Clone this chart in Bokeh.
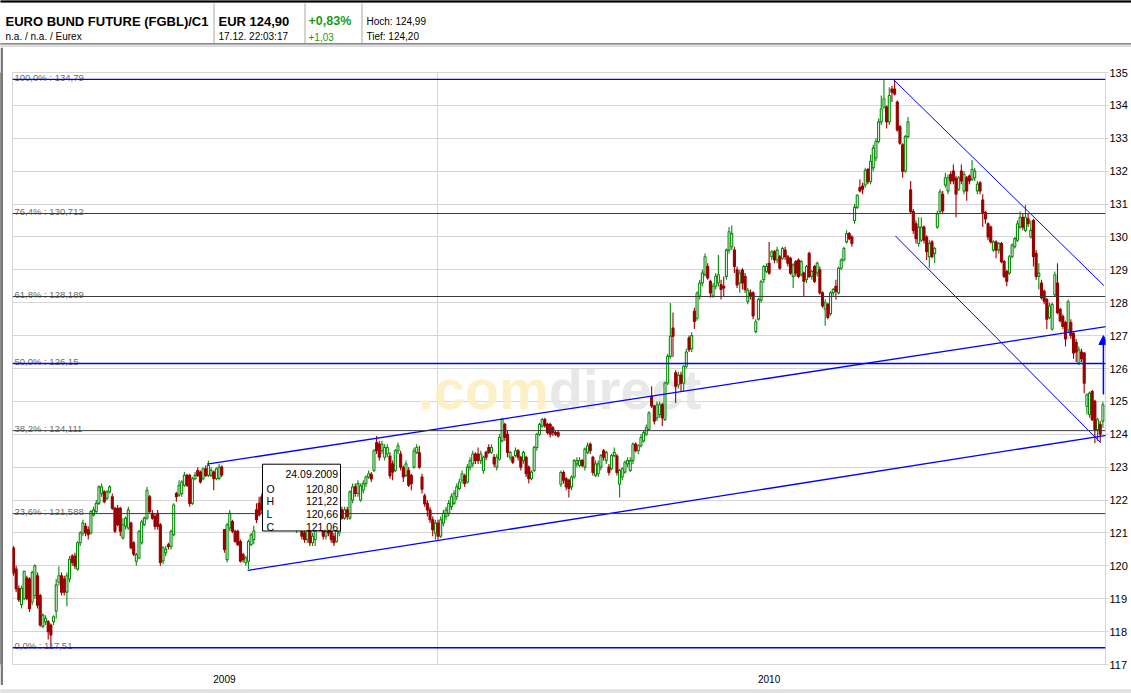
import numpy as np
from bokeh.plotting import figure
from bokeh.layouts import column, row
from bokeh.models import (Range1d, FixedTicker, Span, Arrow, NormalHead, ColumnDataSource,
                          BoxAnnotation, Label)
from bokeh.embed import file_html
from bokeh.resources import INLINE
from bokeh.core.properties import value

FONT = "Liberation Sans"

# ---------------- data: daily candles (trading-day index 0..408) ----------------
opens = [
    120.54, 119.9, 119.3, 118.82, 119.0, 119.63, 119.6, 118.9, 119.1, 119.7,
    119.1, 118.16, 118.3, 118.3, 118.2, 118.3, 118.62, 119.5, 119.7, 119.6,
    119.2, 119.6, 120.3, 120.3, 119.9, 120.7, 121.0, 121.2, 121.1, 121.0,
    121.55, 121.65, 121.9, 122.2, 122.25, 122.05, 122.25, 122.1, 121.75, 121.75,
    121.75, 120.85, 121.2, 121.15, 121.3, 120.7, 120.14, 120.24, 120.7, 121.25,
    121.45, 122.1, 121.6, 121.5, 121.6, 121.25, 120.15, 120.4, 120.64, 120.59,
    120.95, 122.2, 122.15, 122.2, 122.45, 122.75, 122.75, 121.9, 122.65, 122.9,
    122.85, 122.65, 122.95, 122.75, 122.75, 122.85, 122.65, 122.66, 123.0, 121.1,
    120.19, 121.15, 121.35, 121.05, 121.05, 120.74, 120.34, 120.1, 120.14, 120.64,
    120.80, 121.7, 121.9, 122.1, 121.9, 121.6, 122.0, 122.4, 122.2, 122.6,
    122.3, 122.0, 122.3, 121.9, 121.6, 121.8, 121.2, 121.5, 121.3, 121.0,
    120.8, 121.1, 120.7, 120.8, 121.2, 121.5, 121.2, 120.9, 121.3, 121.1,
    120.9, 120.74, 121.0, 121.7, 121.45, 121.7, 121.45, 122.0, 122.4, 122.2,
    122.0, 122.3, 122.5, 122.7, 122.78, 122.9, 123.75, 123.7, 123.5, 123.3,
    123.4, 123.34, 123.1, 122.9, 123.5, 123.4, 122.99, 122.75, 122.9, 122.75,
    123.0, 123.45, 123.44, 122.7, 122.13, 121.9, 121.7, 121.4, 121.0, 121.3,
    120.9, 121.3, 121.5, 121.6, 121.8, 121.9, 122.1, 122.35, 122.6, 122.74,
    122.55, 123.0, 123.1, 123.4, 123.4, 123.2, 122.9, 123.45, 123.6, 123.45,
    123.3, 123.0, 123.24, 123.8, 124.3, 124.0, 123.3, 123.3, 123.35, 123.5,
    123.3, 123.2, 123.3, 123.0, 122.65, 122.9, 123.6, 124.0, 124.25, 124.45,
    124.3, 124.3, 124.2, 124.05, 124.05, 122.48, 122.84, 122.65, 122.6, 122.4,
    122.7, 123.1, 123.05, 123.2, 123.0, 123.45, 123.7, 123.3, 122.75, 122.8,
    123.0, 123.5, 123.2, 123.0, 122.95, 123.35, 123.34, 122.48, 122.7, 122.85,
    123.1, 122.9, 123.2, 123.7, 123.5, 123.65, 123.8, 124.0, 124.15, 125.16,
    124.86, 124.5, 124.6, 124.9, 124.45, 125.56, 126.37, 127.23, 125.87, 125.5,
    125.8, 125.55, 126.07, 126.93, 126.6, 127.74, 127.53, 128.2, 128.6, 128.85,
    129.1, 128.65, 128.2, 128.5, 128.6, 128.55, 128.5, 128.8, 129.6, 129.7,
    129.6, 129.0, 128.6, 128.99, 128.8, 128.04, 128.3, 128.3, 127.12, 127.5,
    128.08, 128.7, 128.95, 129.2, 129.4, 129.55, 129.3, 129.4, 129.35, 129.6,
    129.4, 129.35, 128.8, 129.25, 129.3, 128.85, 128.9, 128.7, 129.5, 128.8,
    129.1, 128.9, 129.0, 128.3, 127.8, 127.95, 127.67, 128.3, 128.5, 128.3,
    129.05, 129.3, 129.85, 130.1, 130.0, 130.5, 130.9, 131.5, 131.55, 131.58,
    132.05, 131.68, 132.1, 132.4, 132.9, 133.5, 133.95, 133.95, 133.5, 134.5,
    134.5, 134.1, 133.35, 132.8, 132.0, 133.05, 131.43, 130.77, 130.4, 129.8,
    129.9, 130.3, 130.0, 129.4, 129.85, 129.5, 130.3, 130.77, 131.3, 131.58,
    131.4, 131.9, 132.0, 131.78, 131.45, 132.0, 131.4, 131.8, 131.85, 131.75,
    131.8, 131.4, 131.65, 131.12, 130.75, 130.4, 130.3, 129.6, 129.85, 129.6,
    129.8, 129.25, 128.95, 128.9, 129.4, 129.7, 129.9, 130.3, 130.6, 130.2,
    130.55, 130.0, 130.5, 129.5, 128.8, 128.6, 128.35, 128.1, 127.55, 127.2,
    128.24, 128.6, 127.8, 127.58, 127.4, 127.17, 127.4, 127.07, 126.8, 126.16,
    126.5, 126.47, 124.85, 124.6, 125.3, 125.0, 124.14, 124.3, 124.4,
]
closes = [
    119.78, 119.3, 118.97, 119.32, 119.83, 119.0, 118.7, 119.8, 120.0, 118.8,
    118.2, 118.5, 118.4, 118.0, 117.9, 118.45, 119.42, 119.7, 119.2, 119.2,
    119.7, 120.2, 120.1, 120.0, 120.7, 121.0, 121.3, 121.0, 120.95, 121.65,
    121.7, 121.9, 122.4, 122.4, 121.95, 122.25, 122.4, 121.75, 121.05, 121.25,
    121.05, 121.25, 121.45, 121.7, 120.55, 120.35, 120.34, 121.04, 121.34, 121.45,
    122.3, 121.65, 121.45, 121.2, 121.2, 120.1, 120.55, 120.5, 120.59, 121.05,
    121.85, 122.1, 122.45, 122.55, 122.75, 122.45, 121.9, 122.65, 122.75, 122.75,
    122.55, 122.95, 122.75, 123.05, 122.9, 122.65, 122.95, 123.0, 122.76, 120.5,
    121.25, 121.6, 121.05, 120.74, 120.64, 120.14, 120.19, 120.24, 120.74, 120.94,
    121.06, 121.4, 121.55, 121.7, 121.6, 122.1, 122.4, 122.2, 122.6, 122.3,
    122.0, 122.3, 121.9, 121.6, 121.8, 121.3, 121.5, 121.2, 120.9, 120.8,
    121.1, 120.7, 120.9, 121.3, 121.5, 121.2, 120.9, 121.3, 121.0, 120.8,
    120.7, 121.05, 121.4, 121.45, 121.7, 121.5, 122.25, 122.4, 122.2, 122.5,
    122.43, 122.5, 122.7, 122.8, 122.64, 123.5, 123.5, 123.3, 123.7, 123.6,
    123.6, 122.74, 122.85, 123.5, 123.65, 123.0, 122.7, 123.1, 122.45, 122.5,
    123.5, 123.6, 123.0, 122.33, 121.88, 121.7, 121.4, 121.1, 121.3, 120.9,
    121.4, 121.6, 121.7, 121.9, 122.1, 122.2, 122.4, 122.55, 122.8, 122.5,
    123.0, 123.2, 123.4, 123.2, 123.2, 123.4, 123.3, 123.3, 123.45, 123.6,
    123.1, 123.3, 123.9, 124.45, 123.9, 123.45, 123.45, 123.15, 123.5, 123.3,
    123.0, 123.45, 122.8, 122.65, 122.85, 123.6, 124.0, 124.3, 124.45, 124.25,
    124.05, 124.0, 124.05, 124.0, 123.95, 122.84, 122.6, 122.4, 122.35, 122.7,
    123.2, 123.2, 123.2, 123.05, 123.55, 123.65, 123.5, 122.84, 123.1, 123.1,
    123.35, 123.3, 123.45, 122.84, 123.35, 123.45, 122.84, 122.9, 122.95, 123.15,
    123.2, 123.2, 123.7, 123.5, 123.65, 123.9, 124.05, 124.2, 124.65, 124.86,
    124.4, 124.9, 124.9, 124.5, 125.56, 126.37, 126.98, 126.98, 125.46, 125.8,
    125.55, 126.07, 126.5, 126.57, 127.0, 127.43, 128.29, 128.6, 128.9, 129.4,
    128.75, 128.3, 128.5, 128.8, 128.85, 128.4, 128.45, 129.6, 130.16, 130.1,
    129.1, 128.54, 128.9, 128.6, 128.4, 128.38, 128.2, 127.6, 127.42, 128.1,
    128.64, 129.1, 129.1, 128.9, 129.55, 129.3, 129.6, 129.05, 129.65, 129.4,
    129.2, 128.9, 129.15, 128.9, 128.8, 129.25, 128.65, 129.1, 128.8, 128.95,
    128.65, 129.2, 128.3, 127.9, 128.0, 127.55, 128.3, 128.4, 128.35, 129.05,
    129.3, 129.65, 130.1, 129.95, 129.8, 130.9, 131.27, 131.4, 131.45, 132.03,
    131.68, 132.3, 132.7, 132.9, 133.5, 133.9, 134.2, 133.5, 134.3, 134.4,
    134.35, 133.25, 132.85, 132.0, 133.05, 133.5, 130.77, 130.2, 129.95, 130.3,
    130.3, 129.9, 129.55, 129.8, 129.4, 129.65, 130.7, 131.37, 130.8, 131.8,
    131.8, 131.7, 131.7, 131.3, 131.8, 131.7, 131.9, 131.4, 131.7, 132.05,
    132.0, 131.6, 131.4, 130.72, 130.55, 130.0, 129.85, 129.85, 129.6, 129.8,
    129.25, 128.8, 128.65, 129.4, 129.75, 129.95, 130.4, 130.6, 130.3, 130.6,
    130.4, 130.2, 129.4, 128.8, 128.9, 128.15, 128.05, 127.5, 127.9, 127.95,
    128.85, 127.7, 127.45, 127.28, 126.9, 128.03, 127.0, 126.47, 126.5, 126.57,
    126.3, 125.55, 125.2, 125.25, 124.44, 124.14, 124.44, 124.0, 124.9,
]
highs = [
    120.6, 120.0, 119.4, 119.4, 119.85, 119.7, 119.65, 119.85, 120.05, 119.8,
    119.15, 118.55, 118.5, 118.35, 118.25, 118.5, 119.6, 119.98, 119.8, 119.7,
    119.8, 120.3, 120.35, 120.4, 120.75, 121.05, 121.4, 121.3, 121.2, 121.7,
    121.8, 122.0, 122.45, 122.5, 122.3, 122.3, 122.45, 122.2, 121.8, 121.85,
    121.8, 121.45, 121.5, 121.8, 121.35, 120.75, 120.4, 121.1, 121.4, 121.5,
    122.4, 122.15, 121.7, 121.6, 121.7, 121.3, 120.6, 120.6, 120.7, 121.1,
    121.9, 122.25, 122.6, 122.6, 122.85, 122.8, 122.8, 122.7, 122.85, 123.0,
    122.9, 123.0, 123.05, 123.2, 123.0, 122.9, 123.0, 123.1, 123.05, 121.1,
    121.3, 121.7, 121.4, 121.1, 121.1, 120.8, 120.4, 120.3, 120.8, 121.0,
    121.22, 121.9, 122.1, 122.2, 122.0, 122.2, 122.5, 122.6, 122.7, 122.7,
    122.4, 122.4, 122.4, 122.0, 121.9, 121.9, 121.6, 121.6, 121.4, 121.1,
    121.2, 121.2, 121.0, 121.4, 121.6, 121.6, 121.3, 121.4, 121.4, 121.2,
    121.0, 121.1, 121.5, 121.8, 121.8, 121.8, 122.3, 122.5, 122.5, 122.6,
    122.5, 122.6, 122.75, 122.9, 122.85, 123.55, 123.95, 123.8, 123.8, 123.7,
    123.7, 123.45, 123.2, 123.55, 123.75, 123.5, 123.05, 123.2, 123.0, 122.8,
    123.6, 123.7, 123.65, 122.8, 122.2, 122.0, 121.8, 121.5, 121.4, 121.4,
    121.5, 121.7, 121.8, 122.0, 122.2, 122.3, 122.5, 122.65, 122.9, 122.8,
    123.1, 123.3, 123.5, 123.45, 123.6, 123.5, 123.35, 123.5, 123.7, 123.7,
    123.4, 123.4, 124.0, 124.5, 124.35, 124.1, 123.5, 123.35, 123.6, 123.55,
    123.35, 123.5, 123.35, 123.05, 122.9, 123.65, 124.05, 124.35, 124.5, 124.5,
    124.35, 124.35, 124.25, 124.1, 124.1, 122.9, 122.9, 122.7, 122.65, 122.75,
    123.25, 123.3, 123.3, 123.25, 123.6, 123.75, 123.75, 123.35, 123.2, 123.2,
    123.4, 123.55, 123.5, 123.1, 123.4, 123.6, 123.4, 122.95, 123.0, 123.2,
    123.3, 123.3, 123.75, 123.75, 123.7, 124.0, 124.1, 124.3, 124.7, 125.46,
    124.9, 125.0, 125.0, 124.95, 125.6, 126.45, 127.99, 127.7, 125.95, 125.9,
    125.9, 126.1, 126.6, 127.0, 127.1, 127.85, 128.35, 128.7, 129.0, 129.5,
    129.2, 128.7, 128.6, 128.9, 129.45, 128.7, 128.8, 129.65, 130.3, 130.35,
    129.7, 129.1, 129.0, 129.05, 128.9, 128.45, 128.4, 128.35, 127.5, 128.15,
    128.7, 129.15, 129.2, 129.85, 129.6, 129.6, 129.7, 129.45, 129.7, 129.7,
    129.45, 129.4, 129.2, 129.3, 129.35, 129.3, 128.95, 129.15, 129.55, 129.0,
    129.15, 129.25, 129.1, 128.35, 128.1, 128.0, 128.35, 128.45, 128.7, 129.1,
    129.35, 129.7, 130.2, 130.15, 130.05, 131.0, 131.3, 131.75, 131.65, 132.1,
    132.1, 132.5, 132.8, 133.0, 133.6, 134.3, 134.79, 134.0, 134.55, 134.6,
    134.79, 134.15, 133.4, 132.85, 133.1, 133.65, 131.7, 130.85, 130.5, 130.6,
    130.6, 130.35, 130.05, 129.9, 129.9, 129.7, 130.8, 131.45, 131.4, 131.95,
    131.9, 132.0, 132.2, 131.85, 131.85, 132.2, 132.0, 131.85, 131.9, 132.34,
    132.1, 131.7, 131.7, 131.3, 130.8, 130.45, 130.35, 129.9, 129.9, 129.85,
    129.85, 129.3, 129.0, 129.45, 129.8, 130.0, 130.5, 130.77, 130.7, 130.97,
    130.7, 130.5, 130.55, 129.6, 129.2, 128.7, 128.4, 128.15, 128.0, 128.0,
    128.95, 129.2, 127.85, 127.65, 127.45, 128.1, 127.5, 127.1, 126.9, 126.67,
    126.6, 126.5, 125.25, 125.3, 125.35, 125.05, 124.5, 124.4, 124.99,
]
lows = [
    119.7, 119.2, 118.9, 118.7, 118.95, 118.95, 118.6, 118.8, 119.0, 118.7,
    118.15, 118.1, 118.2, 117.76, 117.51, 118.2, 118.4, 119.4, 119.1, 119.1,
    118.77, 119.5, 120.0, 119.9, 119.85, 120.6, 120.9, 120.9, 120.8, 120.95,
    121.5, 121.6, 121.85, 122.1, 121.9, 122.0, 122.2, 121.7, 121.0, 121.2,
    120.9, 120.8, 121.1, 121.1, 120.5, 120.3, 120.0, 120.2, 120.65, 121.2,
    121.4, 121.6, 121.4, 121.1, 121.1, 120.0, 120.05, 120.3, 120.5, 120.5,
    120.9, 121.95, 122.1, 122.1, 122.4, 122.4, 121.8, 121.85, 122.6, 122.7,
    122.5, 122.6, 122.7, 122.7, 122.7, 122.3, 122.6, 122.6, 122.7, 120.4,
    120.1, 121.05, 121.0, 120.7, 120.6, 120.1, 120.1, 120.0, 119.9, 120.6,
    120.66, 121.3, 121.5, 121.6, 121.5, 121.5, 121.9, 122.1, 122.1, 122.2,
    121.9, 121.9, 121.8, 121.5, 121.4, 121.2, 121.0, 121.1, 120.8, 120.7,
    120.7, 120.6, 120.6, 120.6, 121.1, 121.1, 120.8, 120.8, 120.9, 120.7,
    120.6, 120.7, 120.9, 121.4, 121.4, 121.4, 121.4, 121.9, 122.1, 122.1,
    121.95, 122.2, 122.4, 122.65, 122.55, 122.85, 123.4, 123.2, 123.4, 123.2,
    123.3, 122.65, 122.6, 122.85, 123.4, 122.9, 122.55, 122.7, 122.4, 122.3,
    122.95, 123.4, 122.95, 122.2, 121.8, 121.5, 121.3, 120.9, 120.8, 120.8,
    120.85, 121.2, 121.4, 121.5, 121.7, 121.85, 122.0, 122.3, 122.5, 122.4,
    122.5, 122.9, 123.0, 123.1, 123.1, 123.1, 122.8, 123.2, 123.4, 123.4,
    123.0, 122.9, 123.2, 123.75, 123.8, 123.3, 123.2, 123.1, 123.3, 123.2,
    122.9, 123.1, 122.7, 122.5, 122.6, 122.85, 123.5, 123.95, 124.2, 124.2,
    124.0, 123.9, 123.95, 123.95, 123.9, 122.4, 122.5, 122.3, 122.08, 122.3,
    122.65, 123.0, 123.0, 123.0, 122.9, 123.4, 123.4, 122.75, 122.7, 122.7,
    122.9, 123.2, 123.1, 122.75, 122.9, 123.3, 122.75, 122.08, 122.6, 122.8,
    123.0, 122.85, 123.1, 123.45, 123.4, 123.6, 123.75, 123.95, 124.1, 124.8,
    124.3, 124.4, 124.5, 124.25, 124.4, 125.5, 126.3, 126.35, 124.95, 125.4,
    125.3, 125.3, 126.0, 126.5, 126.5, 127.2, 127.45, 128.1, 128.5, 128.8,
    128.7, 128.15, 128.15, 128.4, 128.5, 128.1, 128.2, 128.7, 129.5, 129.6,
    128.9, 128.45, 128.3, 128.4, 128.3, 127.95, 128.1, 127.5, 127.07, 127.45,
    128.0, 128.6, 128.9, 128.85, 129.3, 129.2, 129.2, 129.0, 129.3, 129.3,
    129.1, 128.85, 128.45, 128.8, 128.75, 128.8, 128.2, 128.6, 128.75, 128.7,
    128.6, 128.8, 128.25, 127.85, 127.3, 127.5, 127.6, 128.2, 128.1, 128.25,
    129.0, 129.25, 129.8, 129.9, 129.7, 130.4, 130.85, 131.35, 131.3, 131.5,
    131.6, 131.6, 132.0, 132.3, 132.85, 133.4, 133.9, 133.3, 133.4, 134.1,
    134.3, 133.2, 132.8, 131.8, 131.95, 133.0, 130.7, 130.1, 129.8, 129.7,
    129.85, 129.8, 129.3, 129.05, 129.35, 129.2, 130.25, 130.7, 130.7, 131.5,
    131.3, 131.6, 131.6, 130.6, 131.4, 131.6, 131.3, 131.1, 131.6, 131.7,
    131.7, 131.3, 131.3, 130.3, 130.4, 129.9, 129.8, 129.55, 129.35, 129.5,
    129.2, 128.75, 128.5, 128.85, 129.35, 129.65, 129.85, 130.25, 130.2, 130.15,
    130.3, 129.95, 129.1, 128.7, 128.4, 128.1, 127.95, 127.2, 127.5, 127.15,
    128.2, 127.65, 127.4, 127.2, 126.67, 127.1, 126.9, 126.3, 126.2, 126.1,
    126.2, 125.25, 124.6, 124.5, 124.4, 123.73, 123.8, 123.75, 124.2,
]

# axis ticks / labels
price_ticks = list(range(117, 136))
year_labels = ["2009", "2010"]
year_label_pos = [79, 283]        # candle index in the middle of each year's span
year_boundary = [158.8]           # first trading day of 2010

# Fibonacci retracement levels (low 117.51 -> high 134.79)
fib_levels = [134.79, 130.712, 128.189, 126.15, 124.111, 121.588, 117.51]
fib_labels = ["100,0% : 134,79", "76,4% : 130,712", "61,8% : 128,189", "50,0% : 126,15",
              "38,2% : 124,111", "23,6% : 121,588", "0,0% : 117,51"]
fib_blue = [True, False, False, True, False, False, True]

# hand-drawn trend lines (candle index, price)
upper_channel_x = [72.5, 409.6]
upper_channel_y = [123.09, 127.28]
lower_channel_x = [87.7, 409.4]
lower_channel_y = [119.86, 123.97]
down_upper_x = [329.5, 408.4]
down_upper_y = [134.79, 128.52]
down_lower_x = [330.3, 407.1]
down_lower_y = [130.03, 123.75]
target_arrow_x = 408.2
target_arrow_y = [125.21, 127.0]

tooltip_index = 90
tooltip_date = "24.09.2009"

header_name = "EURO BUND FUTURE (FGBL)/C1"
header_sub = "n.a. / n.a. / Eurex"
header_price = "EUR 124,90"
header_time = "17.12. 22:03:17"
header_pct = "+0,83%"
header_abs = "+1,03"
header_high = "Hoch: 124,99"
header_low = "Tief: 124,20"

# ---------------- styling ----------------
GREEN = "#078a07"
RED = "#990000"
BLUE = "#0000ff"
FIBDARK = "#3a3a3a"
GRID = "#d6d6d6"

o = np.array(opens); c = np.array(closes)
h = np.maximum(np.array(highs), np.maximum(o, c))
l = np.minimum(np.array(lows), np.minimum(o, c))
n = len(c)
assert len(o) == n and len(h) == n and len(l) == n
idx = np.arange(n)

X0, X1 = -0.37, 408.98
Y0, Y1 = 117, 135
CW, CH = 1128, 638
MB_L, MB_R, MB_T, MB_B = 9, 26, 25, 19
frame_w = CW - MB_L - MB_R
frame_h = CH - MB_T - MB_B
kx = (X1 - X0) / frame_w
ky = (Y1 - Y0) / frame_h

p = figure(width=CW, height=CH, x_range=Range1d(X0, X1), y_range=Range1d(Y0, Y1),
           toolbar_location=None, output_backend="svg", y_axis_location="right",
           min_border_left=MB_L, min_border_right=MB_R, min_border_top=MB_T,
           min_border_bottom=MB_B, outline_line_color=GRID,
           background_fill_color="white", border_fill_color="white")

p.yaxis.ticker = FixedTicker(ticks=price_ticks)
p.yaxis.axis_line_color = None
p.yaxis.major_tick_out = 3
p.yaxis.major_tick_in = 0
p.yaxis.major_tick_line_color = GRID
p.yaxis.minor_tick_line_color = None
p.yaxis.major_label_text_font = FONT
p.yaxis.major_label_text_font_size = "11px"
p.yaxis.major_label_text_color = "#000000"
p.yaxis.major_label_standoff = 1

p.xaxis.ticker = FixedTicker(ticks=year_label_pos)
p.xaxis.major_label_overrides = dict(zip(year_label_pos, year_labels))
p.xaxis.axis_line_color = None
p.xaxis.major_tick_line_color = None
p.xaxis.minor_tick_line_color = None
p.xaxis.major_label_text_font = FONT
p.xaxis.major_label_text_font_size = "10px"
p.xaxis.major_label_text_color = "#000000"
p.xaxis.major_label_standoff = 4

p.ygrid.ticker = FixedTicker(ticks=price_ticks)
p.ygrid.grid_line_color = GRID
p.xgrid.ticker = FixedTicker(ticks=year_boundary)
p.xgrid.grid_line_color = GRID

# watermark
p.text(x=[200.5], y=[125.36], text=[".com"], text_align="right", text_baseline="alphabetic",
       text_font=value(FONT), text_font_style="bold", text_font_size="56px",
       text_color="#fcefc0", text_alpha=0.9)
p.text(x=[200.5], y=[125.36], text=["direct"], text_align="left", text_baseline="alphabetic",
       text_font=value(FONT), text_font_style="bold", text_font_size="56px",
       text_color="#e6e6e6", text_alpha=0.9)

# candles
inc = c >= o
dec = ~inc
src_up = ColumnDataSource(dict(x=idx[inc], h=h[inc], l=l[inc], top=c[inc], bot=o[inc]))
src_dn = ColumnDataSource(dict(x=idx[dec], h=h[dec], l=l[dec], top=o[dec], bot=c[dec]))
p.segment(x0="x", y0="h", x1="x", y1="l", source=src_up, line_color=GREEN, line_width=1.1)
p.vbar(x="x", width=0.75, top="top", bottom="bot", source=src_up,
       fill_color="white", line_color=GREEN, line_width=1.1)
p.segment(x0="x", y0="h", x1="x", y1="l", source=src_dn, line_color=RED, line_width=1.1)
p.vbar(x="x", width=0.75, top="top", bottom="bot", source=src_dn,
       fill_color=RED, line_color=RED, line_width=1.1)

# fibonacci lines + labels
for lvl, blue in zip(fib_levels, fib_blue):
    p.add_layout(Span(location=lvl, dimension="width",
                      line_color=BLUE if blue else FIBDARK,
                      line_width=1.4 if blue else 1))
p.text(x=[X0] * len(fib_levels), y=fib_levels, text=fib_labels, x_offset=2, y_offset=-2,
       text_font=value(FONT), text_font_size="9.5px", text_color="#6e6e6e",
       text_baseline="alphabetic", text_align="left")

# trend lines
p.line(upper_channel_x, upper_channel_y, line_color=BLUE, line_width=1.3)
p.line(lower_channel_x, lower_channel_y, line_color=BLUE, line_width=1.3)
p.line(down_upper_x, down_upper_y, line_color=BLUE, line_width=1)
p.line(down_lower_x, down_lower_y, line_color=BLUE, line_width=1)
p.add_layout(Arrow(end=NormalHead(size=9, fill_color=BLUE, line_color=BLUE),
                   x_start=target_arrow_x, y_start=target_arrow_y[0],
                   x_end=target_arrow_x, y_end=target_arrow_y[1],
                   line_color=BLUE, line_width=1.5))

# crosshair tooltip box for the selected candle (annotation, added last -> on top)
ax = tooltip_index
ay = c[tooltip_index]
bl = ax + 8.7 * kx
br = bl + 78 * kx
bb = ay
bt = ay + 67 * ky
p.add_layout(BoxAnnotation(left=bl, right=br, bottom=bb, top=bt, fill_color="white",
                           fill_alpha=1.0, line_color="black", line_width=1, line_alpha=1.0))
fmt = lambda v: f"{v:.2f}".replace(".", ",")
vals = [fmt(o[ax]), fmt(h[ax]), fmt(l[ax]), fmt(c[ax])]
row_off = [24.7, 37.3, 50.0, 63.0]
def tlabel(x, y, t, align):
    p.add_layout(Label(x=x, y=y, text=t, text_align=align, text_baseline="alphabetic",
                       text_font=FONT, text_font_size="10.5px", text_color="black"))
tlabel(br - 2.5 * kx, bt - 10 * ky, tooltip_date, "right")
for letter, v, r in zip(["O", "H", "L", "C"], vals, row_off):
    tlabel(bl + 4 * kx, bt - r * ky, letter, "left")
    tlabel(br - 2.5 * kx, bt - r * ky, v, "right")

# ---------------- header ----------------
hd = figure(width=1131, height=47, x_range=Range1d(0, 1131), y_range=Range1d(47, 0),
            toolbar_location=None, output_backend="svg", x_axis_location=None,
            y_axis_location=None, min_border=0, outline_line_color=None)
hd.grid.visible = False
hd.quad(left=[0], right=[1131], top=[0], bottom=[1.6], color="black")
hd.segment(x0=[213.5, 304.5, 361.5], y0=[3, 3, 3], x1=[213.5, 304.5, 361.5], y1=[43, 43, 43],
           line_color="#a8a8a8", line_width=1)
hd.quad(left=[0], right=[1131], top=[43], bottom=[44.5], color="#8a8a8a")
hd.quad(left=[0], right=[1131], top=[44.5], bottom=[47], color="#dedede")
def htxt(x, y, t, size, bold=False, color="black"):
    hd.text(x=[x], y=[y], text=[t], text_font=value(FONT), text_font_size=size,
            text_font_style="bold" if bold else "normal", text_color=color,
            text_baseline="alphabetic", text_align="left")
htxt(5, 20.7, header_name, "13px", True)
htxt(5, 36, header_sub, "10px")
htxt(218, 20.7, header_price, "13px", True)
htxt(218, 36, header_time, "10px")
htxt(308, 20.7, header_pct, "12.5px", True, "#1a9a1a")
htxt(308, 36, header_abs, "10px", False, "#1a9a1a")
htxt(366, 20.7, header_high, "10px")
htxt(366, 36, header_low, "10px")

# left border bar
bar = figure(width=3, height=CH, x_range=Range1d(0, 1), y_range=Range1d(0, 1),
             toolbar_location=None, output_backend="svg", x_axis_location=None,
             y_axis_location=None, min_border=0, outline_line_color=None,
             background_fill_color="#7a7a7a", border_fill_color="#7a7a7a")
bar.grid.visible = False
bar.quad(left=[0], right=[1], bottom=[0], top=[1], color="#7a7a7a")

# footer
ft = figure(width=1131, height=8, x_range=Range1d(0, 1131), y_range=Range1d(8, 0),
            toolbar_location=None, output_backend="svg", x_axis_location=None,
            y_axis_location=None, min_border=0, outline_line_color=None,
            background_fill_color="#e2e2e2", border_fill_color="#e2e2e2")
ft.grid.visible = False
ft.quad(left=[0], right=[1131], top=[0], bottom=[6.5], color="#e2e2e2")
ft.quad(left=[0], right=[1131], top=[6.5], bottom=[8], color="black")

layout = column(hd, row(bar, p), ft)
open("out.html", "w").write(file_html(layout, INLINE))
